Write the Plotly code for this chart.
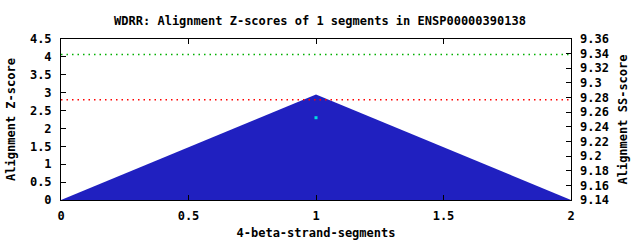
import plotly.graph_objects as go

x_vals = [0, 1, 2]
z_scores = [0, 2.95, 0]
point_x = [1]
point_y = [2.30]
green_level = 4.07
red_level = 2.80
title = "WDRR: Alignment Z-scores of 1 segments in ENSP00000390138"

FONT = dict(family="DejaVu Sans Mono", size=12, color="black", weight="bold")

fig = go.Figure()
fig.add_trace(go.Scatter(x=x_vals, y=z_scores, mode="lines", fill="tozeroy",
                         line=dict(color="#2020c0", width=0), fillcolor="#2020c0",
                         showlegend=False, hoverinfo="skip"))
fig.add_trace(go.Scatter(x=[0, 2], y=[green_level, green_level], mode="lines",
                         line=dict(color="#00b000", width=1.5, dash="1.5px,4px"), showlegend=False))
fig.add_trace(go.Scatter(x=[0, 2], y=[red_level, red_level], mode="lines",
                         line=dict(color="#ff0000", width=1.5, dash="1.5px,4px"), showlegend=False))
fig.add_trace(go.Scatter(x=point_x, y=point_y, mode="markers",
                         marker=dict(color="#00e0e0", size=3, symbol="square"), showlegend=False))
fig.add_trace(go.Scatter(x=[None], y=[None], yaxis="y2", showlegend=False))

fig.update_layout(
    width=640, height=240,
    margin=dict(l=61, r=69, t=39, b=40, autoexpand=False),
    paper_bgcolor="white", plot_bgcolor="white",
    font=FONT,
    title=dict(text=title, x=0.5, xanchor="center", y=0.915, yanchor="middle",
               font=FONT),
    xaxis=dict(range=[0, 2], tickvals=[0, 0.5, 1, 1.5, 2],
               ticktext=["0", "0.5", "1", "1.5", "2"], automargin=False,
               showgrid=False, zeroline=False, showline=True, linecolor="black", linewidth=1,
               mirror="ticks", ticks="inside", ticklen=5, tickcolor="black",
               ticklabelstandoff=5,
               title=dict(text="4-beta-strand-segments", font=FONT, standoff=6)),
    yaxis=dict(range=[0, 4.5], tickvals=[0, 0.5, 1, 1.5, 2, 2.5, 3, 3.5, 4, 4.5],
               ticktext=["0", "0.5", "1", "1.5", "2", "2.5", "3", "3.5", "4", "4.5"],
               automargin=False,
               showgrid=False, zeroline=False, showline=True, linecolor="black", linewidth=1,
               mirror=True, ticks="inside", ticklen=5, tickcolor="black",
               ticklabelstandoff=6,
               title=dict(text="Alignment Z-score", font=FONT, standoff=11)),
    yaxis2=dict(range=[9.14, 9.36], overlaying="y", side="right", automargin=False,
                tickvals=[9.14, 9.16, 9.18, 9.2, 9.22, 9.24, 9.26, 9.28, 9.3, 9.32, 9.34, 9.36],
                ticktext=["9.14", "9.16", "9.18", "9.2", "9.22", "9.24", "9.26", "9.28", "9.3", "9.32", "9.34", "9.36"],
                showgrid=False, zeroline=False, ticks="inside", ticklen=5, tickcolor="black",
                ticklabelstandoff=8,
                title=dict(text="Alignment SS-score", font=FONT, standoff=10)),
)

fig.write_html("out.html")
